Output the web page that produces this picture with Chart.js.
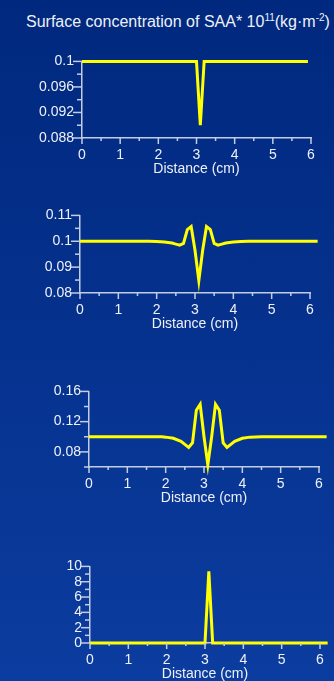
<!DOCTYPE html>
<html>
<head>
<meta charset="utf-8">
<script src="https://cdn.jsdelivr.net/npm/chart.js@4/dist/chart.umd.min.js"></script>
<style>
html,body{margin:0;padding:0;}
body{width:334px;height:681px;position:relative;overflow:hidden;
background:linear-gradient(to bottom,#00287e,#0b3c9f);font-family:"Liberation Sans",Arial,sans-serif;}
#title{position:absolute;left:26px;top:12px;color:#eef1f8;font-size:16px;white-space:nowrap;}
#title sup{font-size:10px;}
canvas{position:absolute;left:0;}
</style>
</head>
<body>
<div id="title">Surface concentration of SAA* 10<sup>11</sup>(kg·m<sup>-2</sup>)</div>
<canvas id="c1" width="334" height="133" style="top:45px"></canvas>
<canvas id="c2" width="334" height="134" style="top:199px"></canvas>
<canvas id="c3" width="334" height="132" style="top:375px"></canvas>
<canvas id="c4" width="334" height="133" style="top:550px"></canvas>
<script>
// panel 1
let dist1 = [0, 3.0, 3.1, 3.2, 5.92];
let conc1 = [0.1, 0.1, 0.09, 0.1, 0.1];
let yLabels1 = [0.088, 0.092, 0.096, 0.1];

// panel 2
let dist2 = [0, 1.8, 2.0, 2.2, 2.4, 2.5, 2.6, 2.7, 2.8, 2.9, 3.0, 3.1, 3.2, 3.3, 3.4, 3.5, 3.6, 3.7, 3.8, 4.0, 4.2, 4.4, 6.2];
let conc2 = [0.1, 0.1, 0.0999, 0.0997, 0.0993, 0.0989, 0.0985, 0.0992, 0.1045, 0.1057, 0.0965, 0.0848, 0.0965, 0.1057, 0.1045, 0.0992, 0.0985, 0.0989, 0.0993, 0.0997, 0.0999, 0.1, 0.1];
let yLabels2 = [0.08, 0.09, 0.1, 0.11];

// panel 3
let dist3 = [0, 1.9, 2.0, 2.2, 2.4, 2.5, 2.6, 2.7, 2.8, 2.9, 3.0, 3.1, 3.2, 3.3, 3.4, 3.5, 3.6, 3.7, 3.8, 4.0, 4.2, 4.5, 6.2];
let conc3 = [0.1, 0.1, 0.0995, 0.098, 0.094, 0.09, 0.086, 0.092, 0.135, 0.143, 0.1, 0.063, 0.1, 0.143, 0.135, 0.092, 0.086, 0.09, 0.094, 0.098, 0.0995, 0.1, 0.1];
let yLabels3 = [0.08, 0.12, 0.16];

// panel 4
let dist4 = [0, 3.0, 3.1, 3.2, 6.2];
let conc4 = [0, 0, 9.35, 0, 0];
let yLabels4 = [0, 2, 4, 6, 8, 10];

let xLabels = [0, 1, 2, 3, 4, 5, 6];

const axisColor = "#c3cde2";
const textColor = "#eef1f8";

function hasLabel(list, v){
return list.some(l => Math.abs(l - v) < 1e-9);
}

// draw tick marks: long ones for labelled ticks, short for the rest
const tickMarks = {
id: "tickMarks",
afterDraw(chart){
const ctx = chart.ctx;
ctx.save();
ctx.strokeStyle = axisColor;
ctx.lineWidth = 1.5;
const xs = chart.scales.x;
xs.ticks.forEach(t => {
const px = xs.getPixelForValue(t.value);
const len = t.label !== "" ? 6 : 3;
ctx.beginPath();
ctx.moveTo(px, xs.top);
ctx.lineTo(px, xs.top + len);
ctx.stroke();
});
const ys = chart.scales.y;
ys.ticks.forEach(t => {
const py = ys.getPixelForValue(t.value);
const len = t.label !== "" ? 9 : 5;
ctx.beginPath();
ctx.moveTo(ys.right, py);
ctx.lineTo(ys.right - len, py);
ctx.stroke();
});
ctx.restore();
}
};

function makeChart(id, dist, conc, yMin, yMax, yStep, yLabels, xMax, left, right){

const points = dist.map((d, i) => ({x: d, y: conc[i]}));

return new Chart(document.getElementById(id), {
type: "line",
data: {
datasets: [{
data: points,
borderColor: "#ffff00",
borderWidth: 3,
pointRadius: 0,
tension: 0,
clip: false
}]
},
options: {
responsive: false,
animation: false,
devicePixelRatio: 1,
layout: {padding: {top: 0, right: right, left: 0, bottom: 0}},
plugins: {legend: {display: false}, tooltip: {enabled: false}},
scales: {
x: {
type: "linear",
min: 0,
max: xMax,
grid: {display: false, drawTicks: false},
border: {display: true, color: axisColor, width: 1.5},
ticks: {
stepSize: 0.5,
padding: 9,
color: textColor,
font: {family: "Liberation Sans", size: 14},
maxRotation: 0,
autoSkip: false,
callback: v => hasLabel(xLabels, v) ? String(Math.round(v)) : ""
},
title: {
display: true,
text: "Distance (cm)",
color: textColor,
font: {family: "Liberation Sans", size: 14},
padding: {top: 0, bottom: 0}
},
afterFit: s => { s.height = 40; }
},
y: {
min: yMin,
max: yMax,
grid: {display: false, drawTicks: false},
border: {display: true, color: axisColor, width: 1.5},
ticks: {
stepSize: yStep,
padding: 8,
color: textColor,
font: {family: "Liberation Sans", size: 14},
autoSkip: false,
callback: v => hasLabel(yLabels, v) ? String(+v.toFixed(4)) : ""
},
afterFit: s => { s.width = left; }
}
}
},
plugins: [tickMarks]
});

}

makeChart("c1", dist1, conc1, 0.088, 0.1, 0.002, yLabels1, 6, 82, 23);
makeChart("c2", dist2, conc2, 0.08, 0.11, 0.005, yLabels2, 6, 80, 24);
makeChart("c3", dist3, conc3, 0.06, 0.16, 0.02, yLabels3, 6, 89, 15);
makeChart("c4", dist4, conc4, 0, 10, 1, yLabels4, 6, 90, 14);
</script>
</body>
</html>
